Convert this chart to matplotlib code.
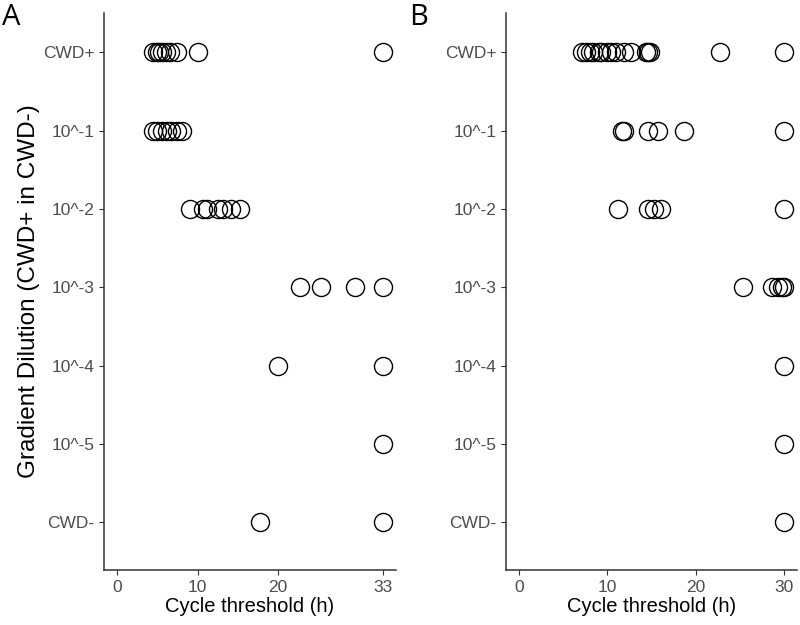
import matplotlib.pyplot as plt

plt.rcParams["font.family"] = ["Liberation Sans", "DejaVu Sans"]

categories = ["CWD+", "10^-1", "10^-2", "10^-3", "10^-4", "10^-5", "CWD-"]

# panel A: cycle threshold (h) per dilution
a_cwd_pos = [4.4, 4.9, 5.2, 5.6, 6.1, 6.5, 7.4, 10.0, 33]
a_e1 = [4.4, 5.0, 5.6, 6.2, 6.7, 7.4, 8.1]
a_e2 = [9.0, 10.6, 11.1, 12.5, 13.1, 14.2, 15.2]
a_e3 = [22.7, 25.3, 29.5, 33]
a_e4 = [20.0, 33]
a_e5 = [33]
a_cwd_neg = [17.8, 33]

# panel B
b_cwd_pos = [7.1, 7.6, 8.0, 8.4, 9.0, 9.3, 9.9, 10.4, 11.0, 11.9, 12.7,
             14.4, 14.6, 14.8, 22.8, 30]
b_e1 = [11.6, 11.9, 14.6, 15.7, 18.7, 30]
b_e2 = [11.2, 14.6, 15.3, 16.1, 30]
b_e3 = [25.4, 28.7, 29.3, 29.8, 30]
b_e4 = [30]
b_e5 = [30]
b_cwd_neg = [30]

panel_a = [a_cwd_pos, a_e1, a_e2, a_e3, a_e4, a_e5, a_cwd_neg]
panel_b = [b_cwd_pos, b_e1, b_e2, b_e3, b_e4, b_e5, b_cwd_neg]

a_ticks = [0, 10, 20, 33]
b_ticks = [0, 10, 20, 30]

GREY = "#4D4D4D"

fig = plt.figure(figsize=(8, 6.25), dpi=100)
ax_a = fig.add_axes([0.13, 0.088, 0.365, 0.891])
ax_b = fig.add_axes([0.6325, 0.088, 0.364, 0.891])


def draw_panel(ax, rows, xticks, xmax):
    n = len(categories)
    for i, vals in enumerate(rows):
        y = n - 1 - i
        ax.plot(vals, [y] * len(vals), linestyle="none", marker="o", ms=13,
                mfc="none", mec="black", mew=1.0)
    ax.set_yticks(range(n))
    ax.set_yticklabels(categories[::-1])
    ax.set_ylim(-0.61, n - 1 + 0.5)
    ax.set_xticks(xticks)
    ax.set_xlim(-0.05 * xmax, xmax * 1.05)
    ax.set_xlabel("Cycle threshold (h)", fontsize=14.5, labelpad=2)
    for s in ["top", "right"]:
        ax.spines[s].set_visible(False)
    for s in ["left", "bottom"]:
        ax.spines[s].set_color("#333333")
        ax.spines[s].set_linewidth(1.1)
    ax.tick_params(colors="#333333", labelcolor=GREY, labelsize=12.5, length=3.5)


draw_panel(ax_a, panel_a, a_ticks, 33)
draw_panel(ax_b, panel_b, b_ticks, 30)

ax_a.set_ylabel("Gradient Dilution (CWD+ in CWD-)", fontsize=17.5, labelpad=2)

fig.text(0.002, 0.995, "A", fontsize=21, va="top", ha="left",
         family=["Open Sans", "DejaVu Sans"])
fig.text(0.512, 0.995, "B", fontsize=21, va="top", ha="left",
         family=["Open Sans", "DejaVu Sans"])

fig.savefig("out.png", dpi=100)
